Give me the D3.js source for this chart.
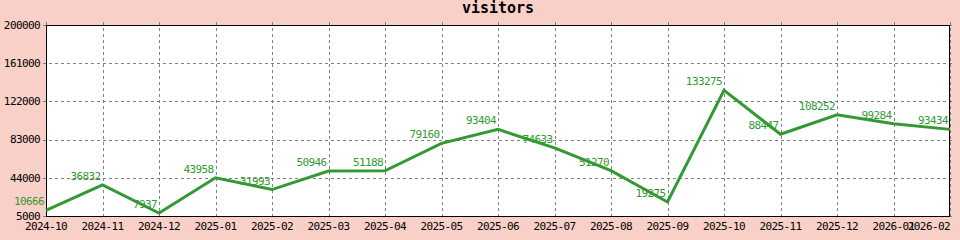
<!DOCTYPE html>
<html>
<head>
<meta charset="utf-8">
<script src="https://cdn.jsdelivr.net/npm/d3@7"></script>
<style>
  body { margin: 0; background: #f8d0c8; }
  svg { display: block; }
  .tick-label { font-family: "DejaVu Sans Mono", monospace; font-size: 11px; letter-spacing: -0.6px; fill: #000; }
  .val { font-family: "DejaVu Sans Mono", monospace; font-size: 11px; letter-spacing: -0.6px; fill: #339933; }
</style>
</head>
<body>
<div id="chart"></div>
<script>
// monthly visitors
const months = ["2024-10", "2024-11", "2024-12", "2025-01", "2025-02", "2025-03", "2025-04",
    "2025-05", "2025-06", "2025-07", "2025-08", "2025-09", "2025-10", "2025-11", "2025-12",
    "2026-01", "2026-02"];
const visitors = [10666, 36832, 7937, 43958, 31993, 50946, 51188, 79160, 93404, 74633,
    51270, 19275, 133275, 88447, 108252, 99284, 93434];
const yTicks = [5000, 44000, 83000, 122000, 161000, 200000];

const W = 960, H = 240;
const margin = { top: 25, right: 10, bottom: 24, left: 46 };
const width = W - margin.left - margin.right;
const height = H - margin.top - margin.bottom;

const x = d3.scalePoint()
    .domain(months)
    .range([0, width]);

const y = d3.scaleLinear()
    .domain([5000, 200000])
    .range([height, 0]);

const svg = d3.select("#chart").append("svg")
    .attr("width", W)
    .attr("height", H);

svg.append("rect")
    .attr("width", W)
    .attr("height", H)
    .attr("fill", "#f8d0c8");

svg.append("text")
    .attr("x", margin.left + width / 2)
    .attr("y", 13)
    .attr("text-anchor", "middle")
    .style("font-family", "'DejaVu Sans Mono', monospace")
    .style("font-size", "15px")
    .style("font-weight", "bold")
    .text("visitors");

const g = svg.append("g")
    .attr("transform", `translate(${margin.left},${margin.top})`);

g.append("rect")
    .attr("width", width)
    .attr("height", height)
    .attr("fill", "#fff");

// grid
g.selectAll(".hgrid")
    .data(yTicks)
    .join("line")
    .attr("x1", -3).attr("x2", width + 3)
    .attr("y1", d => Math.round(y(d)) + 0.5)
    .attr("y2", d => Math.round(y(d)) + 0.5)
    .attr("stroke", "#808080")
    .attr("stroke-dasharray", "3,3");

g.selectAll(".vgrid")
    .data(months)
    .join("line")
    .attr("x1", d => Math.round(x(d)) + 0.5)
    .attr("x2", d => Math.round(x(d)) + 0.5)
    .attr("y1", -3).attr("y2", height + 3)
    .attr("stroke", "#808080")
    .attr("stroke-dasharray", "3,3");

// border
g.append("rect")
    .attr("x", 0.5).attr("y", 0.5)
    .attr("width", width - 1)
    .attr("height", height)
    .attr("fill", "none")
    .attr("stroke", "#000");

// y tick labels
g.selectAll(".ylab")
    .data(yTicks)
    .join("text")
    .attr("class", "tick-label")
    .attr("x", -6)
    .attr("y", d => y(d))
    .attr("dy", "0.35em")
    .attr("text-anchor", "end")
    .text(d => d);

// x tick labels, last one kept inside the frame
g.selectAll(".xlab")
    .data(months)
    .join("text")
    .attr("class", "tick-label")
    .attr("x", d => x(d))
    .attr("y", height + 14)
    .attr("text-anchor", (d, i) => i === months.length - 1 ? "end" : "middle")
    .text(d => d);

const data = months.map((m, i) => ({ month: m, value: visitors[i] }));

const line = d3.line()
    .x(d => x(d.month))
    .y(d => y(d.value));

g.append("path")
    .datum(data)
    .attr("d", line)
    .attr("fill", "none")
    .attr("stroke", "#339933")
    .attr("stroke-width", 3)
    .attr("stroke-linejoin", "miter");

g.selectAll(".val")
    .data(data)
    .join("text")
    .attr("class", "val")
    .attr("x", d => x(d.month) - 2)
    .attr("y", d => y(d.value) - 5)
    .attr("text-anchor", "end")
    .text(d => d.value);
</script>
</body>
</html>
